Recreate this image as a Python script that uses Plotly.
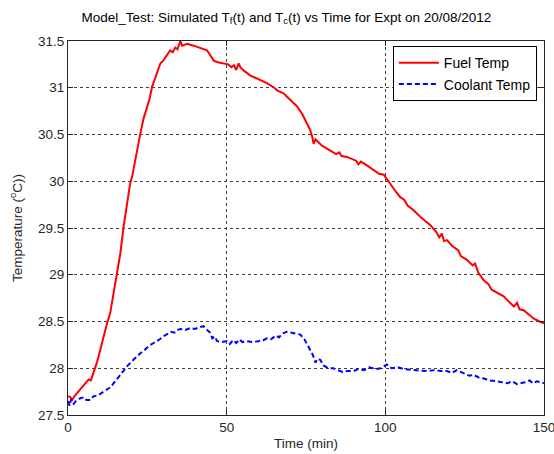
import plotly.graph_objects as go

# Fuel temperature trace (time in minutes, temperature in deg C)
fuel_time = [0, 0.8, 1.3, 2.0, 3.0, 4.5, 5.5, 6.5, 7.2, 8.0, 9.1, 10.2, 11.2, 12.3, 13.3,
             14.4, 15.4, 16.5, 17.5, 18.6, 19.6, 20.2, 21.5, 22.8, 23.8, 24.9, 25.7, 26.5,
             27.8, 29.1, 30.0, 31.0, 32.2, 33.0, 33.8, 34.5, 35.0, 35.4, 36.0, 37.5, 39.6,
             41.5, 43.8, 44.8, 45.9, 47.5, 49.0, 50.5, 51.5, 52.3, 53.0, 53.8, 54.3, 55.5,
             57.5, 60.6, 62.7, 65.0, 66.0, 67.9, 70.0, 72.2, 73.8, 75.3, 76.3, 77.0, 77.4,
             78.0, 79.0, 80.0, 81.6, 83.5, 84.5, 85.5, 86.2, 87.9, 89.5, 90.8, 91.5, 92.3,
             94.2, 96.5, 98.0, 99.5, 100.5, 102.0, 103.5, 104.7, 106.0, 107.0, 108.9, 111.0,
             114.2, 116.0, 117.0, 117.8, 118.5, 119.4, 121.0, 123.0, 123.8, 125.7, 127.5,
             128.3, 129.2, 131.0, 132.5, 133.5, 135.5, 137.3, 139.0, 140.5, 141.5, 142.3,
             143.6, 145.0, 146.8, 148.6, 150.0]
fuel_temp = [27.70, 27.69, 27.66, 27.70, 27.74, 27.80, 27.84, 27.88, 27.87, 27.95, 28.06,
             28.20, 28.34, 28.48, 28.59, 28.80, 29.02, 29.23, 29.51, 29.76, 29.98, 30.05,
             30.30, 30.51, 30.67, 30.80, 30.88, 31.01, 31.14, 31.26, 31.29, 31.34, 31.40,
             31.38, 31.43, 31.41, 31.47, 31.50, 31.45, 31.47, 31.45, 31.43, 31.40, 31.35,
             31.29, 31.27, 31.26, 31.25, 31.22, 31.24, 31.19, 31.26, 31.22, 31.18, 31.13,
             31.08, 31.05, 31.00, 30.97, 30.94, 30.87, 30.80, 30.72, 30.62, 30.55, 30.47,
             30.40, 30.45, 30.42, 30.38, 30.35, 30.31, 30.29, 30.31, 30.27, 30.26, 30.24,
             30.22, 30.18, 30.21, 30.17, 30.12, 30.08, 30.07, 30.02, 29.95, 29.88, 29.83,
             29.80, 29.74, 29.69, 29.62, 29.53, 29.46, 29.40, 29.44, 29.36, 29.37, 29.31,
             29.26, 29.20, 29.16, 29.10, 29.12, 29.03, 28.94, 28.90, 28.84, 28.80, 28.77,
             28.71, 28.66, 28.70, 28.63, 28.62, 28.58, 28.53, 28.50, 28.48]

# Coolant temperature trace
coolant_time = [0, 0.5, 1.0, 1.8, 2.5, 3.9, 5.0, 5.8, 7.0, 8.0, 9.5, 11.2, 12.5, 13.5, 14.4,
                15.5, 16.8, 18.6, 20.0, 21.5, 22.8, 24.0, 25.5, 27.0, 28.5, 30.0, 31.2, 32.5,
                33.5, 34.4, 35.5, 37.0, 38.5, 40.0, 41.5, 42.7, 43.5, 44.8, 45.5, 46.2, 47.0,
                48.5, 50.1, 51.0, 52.0, 53.0, 54.0, 55.0, 56.4, 58.0, 60.0, 61.5, 62.7, 64.0,
                65.5, 66.5, 67.5, 69.0, 70.5, 72.0, 73.2, 74.5, 75.5, 76.4, 77.2, 78.0, 78.5,
                79.5, 80.5, 82.0, 83.7, 85.0, 86.5, 88.0, 90.0, 91.5, 93.2, 95.0, 97.0, 98.5,
                99.5, 100.5, 102.0, 104.0, 106.0, 108.9, 111.0, 113.0, 115.5, 117.5, 119.4,
                121.0, 122.5, 124.0, 125.5, 126.5, 127.8, 129.5, 131.0, 133.0, 135.2, 137.0,
                138.5, 140.0, 141.5, 142.5, 144.0, 145.5, 146.5, 147.8, 150.0]
coolant_temp = [27.65, 27.60, 27.67, 27.62, 27.65, 27.68, 27.69, 27.66, 27.66, 27.70, 27.71,
                27.75, 27.78, 27.80, 27.84, 27.89, 27.95, 28.02, 28.07, 28.12, 28.16, 28.19,
                28.24, 28.27, 28.30, 28.34, 28.36, 28.39, 28.38, 28.41, 28.42, 28.41, 28.43,
                28.42, 28.44, 28.45, 28.42, 28.38, 28.32, 28.34, 28.29, 28.28, 28.29, 28.26,
                28.30, 28.27, 28.31, 28.28, 28.29, 28.28, 28.29, 28.30, 28.32, 28.31, 28.35,
                28.33, 28.37, 28.39, 28.38, 28.37, 28.36, 28.31, 28.25, 28.20, 28.14, 28.06,
                28.10, 28.09, 28.03, 28.00, 28.00, 27.98, 27.96, 27.97, 27.97, 27.99, 27.98,
                28.01, 27.99, 28.00, 28.02, 28.04, 28.00, 28.01, 27.99, 27.98, 27.98, 27.97,
                27.98, 27.97, 27.97, 27.95, 27.98, 27.96, 27.94, 27.92, 27.93, 27.90, 27.89,
                27.87, 27.86, 27.85, 27.84, 27.86, 27.83, 27.84, 27.85, 27.87, 27.84, 27.86,
                27.84]

x_ticks = [0, 50, 100, 150]
y_ticks = [27.5, 28, 28.5, 29, 29.5, 30, 30.5, 31, 31.5]
y_tick_text = ["27.5", "28", "28.5", "29", "29.5", "30", "30.5", "31", "31.5"]

FONT = "Arial, Liberation Sans, sans-serif"
TXT = "#262626"

fig = go.Figure()
fig.add_trace(go.Scatter(x=fuel_time, y=fuel_temp, mode="lines", name="Fuel Temp",
                         line=dict(color="#ff0000", width=2)))
fig.add_trace(go.Scatter(x=coolant_time, y=coolant_temp, mode="lines", name="Coolant Temp",
                         line=dict(color="#0000ff", width=2, dash="5px,3px")))

axis_common = dict(
    showline=True, linecolor="#262626", linewidth=1, mirror="ticks",
    ticks="inside", ticklen=5, tickcolor="#262626", automargin=False,
    ticklabeloverflow="allow",
    showgrid=True, gridcolor="#404040", gridwidth=1, griddash="3px,3px",
    zeroline=False, tickfont=dict(family=FONT, size=13.5, color=TXT),
)

fig.update_xaxes(range=[0, 150], tickvals=x_ticks,
                 title=dict(text="Time (min)", font=dict(family=FONT, size=13.5, color=TXT),
                            standoff=4),
                 **axis_common)
fig.update_yaxes(range=[27.5, 31.5], tickvals=y_ticks, ticktext=y_tick_text,
                 title=dict(text="Temperature (<sup>o</sup>C))",
                            font=dict(family=FONT, size=13.5, color=TXT), standoff=12),
                 **axis_common)

fig.update_layout(
    width=554, height=454,
    margin=dict(l=68, r=10, t=41, b=39),
    paper_bgcolor="white", plot_bgcolor="white",
    title=dict(text="Model_Test: Simulated T<sub>f</sub>(t) and T<sub>c</sub>(t) vs Time for Expt on 20/08/2012",
               x=0.517, xanchor="center", y=0.963, yanchor="middle",
               font=dict(family=FONT, size=13.5, color="#000000")),
    legend=dict(x=0.985, xanchor="right", y=0.986, yanchor="top",
                bgcolor="white", bordercolor="#000000", borderwidth=1,
                font=dict(family=FONT, size=14, color="#000000"),
                itemwidth=40, tracegroupgap=0),
    showlegend=True,
)

fig.write_html("out.html")
